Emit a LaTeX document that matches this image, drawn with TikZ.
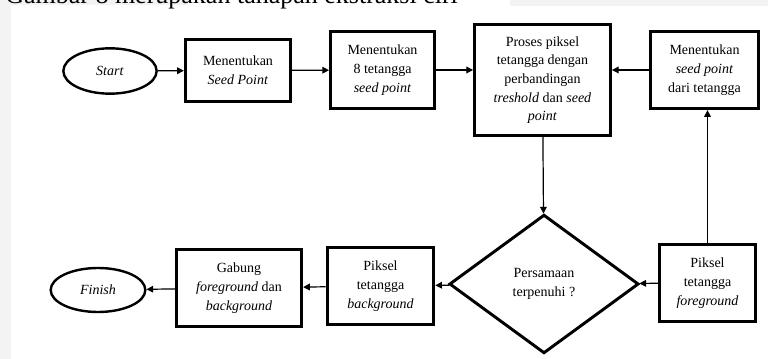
\documentclass[tikz,border=0pt]{standalone}
\usepackage{fontspec}
\setmainfont{Liberation Serif}
\usetikzlibrary{arrows.meta,shapes.geometric}
\definecolor{pagegray}{HTML}{F3F3F3}

\begin{document}
\begin{tikzpicture}[x=0.75pt,y=-0.75pt]
	\useasboundingbox (0,0) rectangle (768,359);
	% page around the figure
	\fill[pagegray] (0,0) rectangle (11,359);
	\fill[pagegray] (0,0) rectangle (188,5);
	\fill[pagegray] (510,0) rectangle (768,6);
	\begin{scope}
		\clip (0,0) rectangle (768,359);
		\node [anchor=base west, inner sep=0, font=\fontsize{19.5}{20}\selectfont] (caption) at (5,4) {Gambar 8 merupakan tahapan ekstraksi ciri};
	\end{scope}
	\begin{scope}[every node/.style = {draw, line width=2.2pt, align=center, inner sep=1pt,
			font = \fontsize{10.5}{14}\selectfont},
		term/.style = {ellipse, line width=1.8pt},
		cond/.style = {diamond, inner sep=0pt}]
		\node [term, minimum width=70pt, minimum height=34pt] (start) at (110,71) {\textit{Start}};
		\node [minimum width=79pt, minimum height=46.5pt] (seed) at (238,70.5) {Menentukan\\\textit{Seed Point}};
		\node [minimum width=78pt, minimum height=58pt] (ngb) at (382.5,70) {Menentukan\\8 tetangga\\\textit{seed point}};
		\node [minimum width=102pt, minimum height=83pt] (proc) at (542.5,80) {Proses piksel\\tetangga dengan\\perbandingan\\\textit{treshold} dan \textit{seed}\\\textit{point}};
		\node [minimum width=81pt, minimum height=58pt] (nsp) at (704.5,70) {Menentukan\\\textit{seed point}\\dari tetangga};
		\node [cond, minimum width=142pt, minimum height=104pt] (cond) at (544,284) {Persamaan\\terpenuhi ?};
		\node [minimum width=72pt, minimum height=58pt] (fg) at (707.5,283) {Piksel\\tetangga\\\textit{foreground}};
		\node [minimum width=80pt, minimum height=58pt] (bg) at (380.5,286) {Piksel\\tetangga\\\textit{background}};
		\node [minimum width=94pt, minimum height=58pt] (merge) at (239,288) {Gabung\\\textit{foreground} dan\\\textit{background}};
		\node [term, minimum width=71pt, minimum height=33pt] (finish) at (98,290) {\textit{Finish}};
	\end{scope}
	\begin{scope}[>={Triangle[length=5pt,width=5pt]},
			every edge/.style={draw=black, line width=0.9pt}]
		\path [->] (start) edge (seed);
		\path [->] (seed) edge (ngb);
		\path [->] (ngb.east) edge (ngb.east -| proc.west);
		\path [->] (nsp.west) edge (nsp.west -| proc.east);
		\path [->] (proc) edge (cond);
		\path [->] (fg.north) edge (fg.north |- nsp.south);
		\path [->] (fg) edge (cond);
		\path [->] (cond) edge (bg);
		\path [->] (bg) edge (merge);
		\path [->] (merge) edge (finish);
	\end{scope}
\end{tikzpicture}
\end{document}
